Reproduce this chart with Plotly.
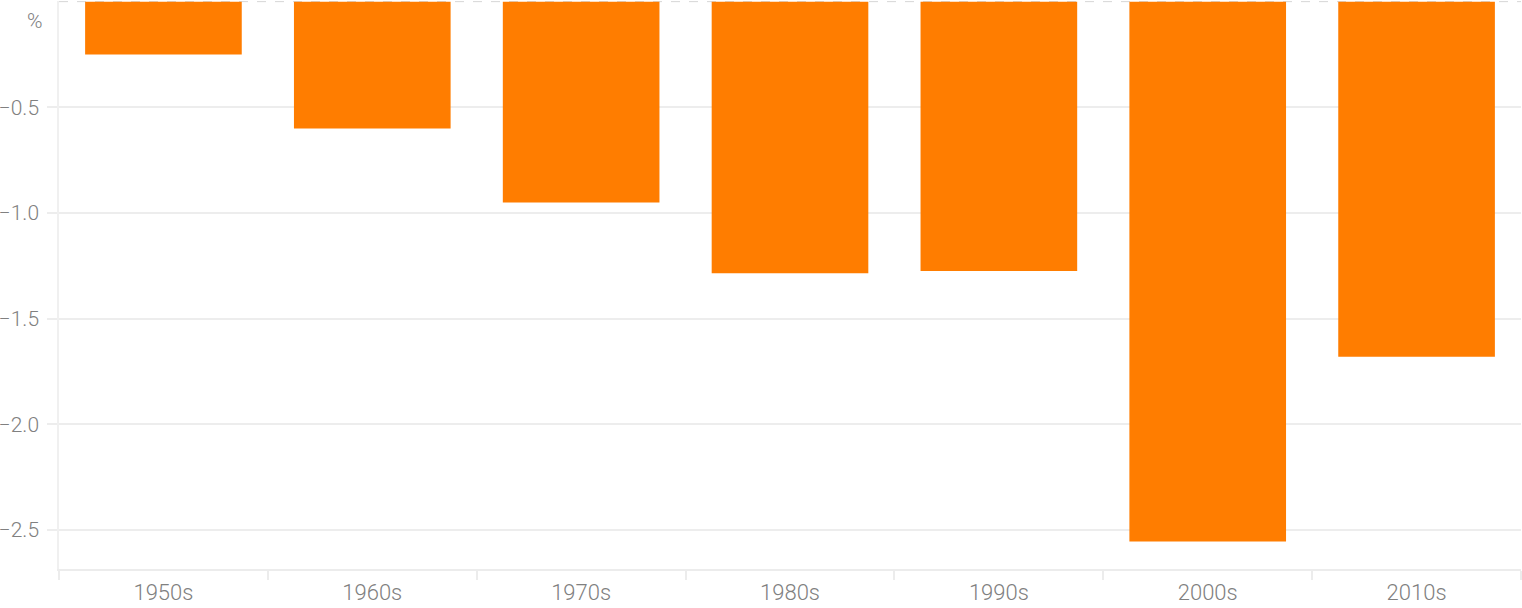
import plotly.graph_objects as go

decades = ["1950s", "1960s", "1970s", "1980s", "1990s", "2000s", "2010s"]
values = [-0.25, -0.60, -0.95, -1.285, -1.275, -2.555, -1.68]
ytick_vals = [-0.5, -1.0, -1.5, -2.0, -2.5]
ytick_text = ["\u22120.5", "\u22121.0", "\u22121.5", "\u22122.0", "\u22122.5"]
unit_label = "%"

font_y = dict(family="Roboto", size=21, color="#808080", weight=300)
font_x = dict(family="Roboto", size=22, color="#808080", weight=300)

fig = go.Figure(go.Bar(x=decades, y=values, marker=dict(color="#FF7D00", line=dict(width=0))))

fig.update_layout(
    width=1522, height=608,
    margin=dict(l=59, r=1, t=1, b=39),
    plot_bgcolor="white", paper_bgcolor="white",
    bargap=0.25,
    showlegend=False,
    font=font_y,
    xaxis=dict(
        type="category",
        automargin=False,
        showgrid=False,
        showline=True, linecolor="#ececec", linewidth=1.5,
        ticks="outside", tickson="boundaries", ticklen=9, tickcolor="#ececec", tickwidth=1.5,
        ticklabelstandoff=3,
        tickfont=font_x,
    ),
    yaxis=dict(
        automargin=False,
        range=[-2.685, 0.003],
        tickvals=ytick_vals, ticktext=ytick_text,
        showgrid=True, gridcolor="#ededed", gridwidth=1.5,
        zeroline=False,
        showline=True, linecolor="#f0f0f0", linewidth=1.5,
        ticks="outside", ticklen=10, tickcolor="#ededed", tickwidth=1.5,
        ticklabelstandoff=4,
        tickfont=font_y,
    ),
    shapes=[dict(type="line", xref="paper", yref="y", x0=0, x1=1, y0=0, y1=0,
                 line=dict(color="#d6d6d6", width=1, dash="dash"), layer="below")],
    annotations=[dict(text=unit_label, xref="paper", yref="y", x=0, y=0,
                      xanchor="right", yanchor="top", xshift=-14, yshift=-5,
                      showarrow=False, font=font_y)],
)

fig.write_html("out.html", config={"displayModeBar": False},
               post_script="document.body.style.margin='0';document.body.style.overflow='hidden';")
